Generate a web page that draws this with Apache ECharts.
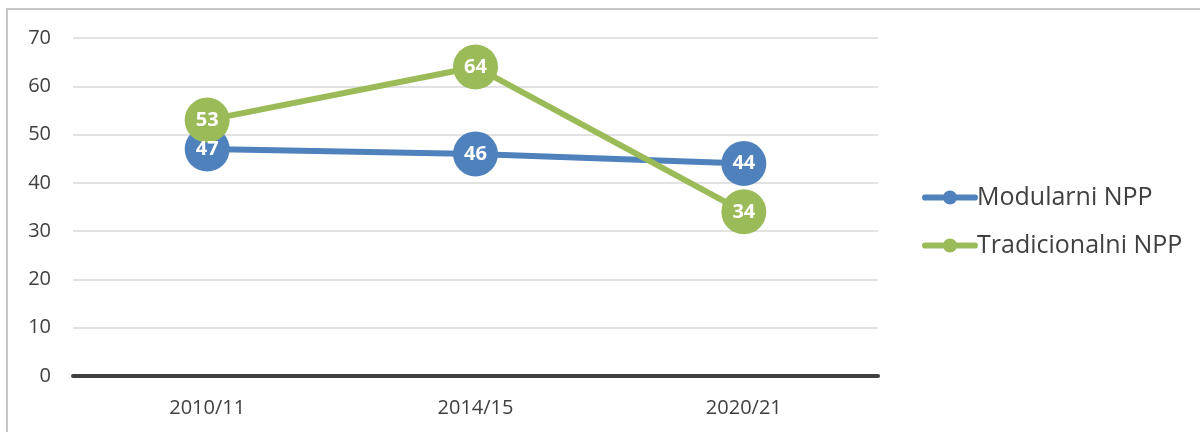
<!DOCTYPE html>
<html>
<head>
<meta charset="utf-8">
<script src="https://cdn.jsdelivr.net/npm/echarts@6/dist/echarts.min.js"></script>
<style>
  html, body { margin: 0; padding: 0; background: #fff; }
  #chart { width: 1200px; height: 432px; }
</style>
</head>
<body>
<div id="chart"></div>
<script>
// podaci sa grafikona
var categories = ['2010/11', '2014/15', '2020/21'];
var modularni = [47, 46, 44];
var tradicionalni = [53, 64, 34];
var yTicks = [0, 10, 20, 30, 40, 50, 60, 70];

var myChart = echarts.init(document.getElementById('chart'));

var font = "'Open Sans', 'Noto Sans', sans-serif";

var mkSeries = function(name, data, color){
    return {
        name: name,
        type: 'line',
        data: data,
        symbol: 'circle',
        symbolSize: 45,
        lineStyle: { color: color, width: 6 },
        itemStyle: { color: color },
        label: {
            show: true,
            position: 'inside',
            color: '#fff',
            fontWeight: 'bold',
            fontSize: 20,
            fontFamily: font
        },
        z: 3
    };
};

var option = {
    backgroundColor: '#fff',
    animation: false,
    graphic: [
        {
            type: 'rect',
            shape: { x: 7, y: 9, width: 1200, height: 440 },
            style: { fill: 'none', stroke: '#c8c8c8', lineWidth: 2 },
            silent: true
        }
    ],
    grid: { left: 73, right: 322, top: 38, bottom: 56 },
    legend: {
        orient: 'vertical',
        left: 917,
        top: 180,
        itemWidth: 56,
        itemHeight: 16,
        itemGap: 23,
        icon: 'path://M0,4.5 L20,4.5 A3.5,3.5 0 0 1 20,11.5 L0,11.5 A3.5,3.5 0 0 1 0,4.5 Z M28,0 A8,8 0 1 1 28,16 A8,8 0 1 1 28,0 Z M36,4.5 L56,4.5 A3.5,3.5 0 0 1 56,11.5 L36,11.5 A3.5,3.5 0 0 1 36,4.5 Z',
        textStyle: { fontSize: 25, color: '#404040', fontFamily: font, padding: [0, 0, 0, -6] },
        data: ['Modularni NPP', 'Tradicionalni NPP']
    },
    xAxis: {
        type: 'category',
        data: categories,
        boundaryGap: true,
        axisLine: { lineStyle: { color: '#404040', width: 4 } },
        axisTick: { show: false },
        axisLabel: { fontSize: 20, color: '#404040', fontFamily: font, margin: 22 }
    },
    yAxis: {
        type: 'value',
        min: yTicks[0],
        max: yTicks[yTicks.length - 1],
        interval: 10,
        axisLine: { show: false },
        axisTick: { show: false },
        splitLine: { lineStyle: { color: '#d9d9d9', width: 1.5 } },
        axisLabel: { fontSize: 20, color: '#404040', fontFamily: font, margin: 22 }
    },
    series: [
        mkSeries('Modularni NPP', modularni, '#4f81bd'),
        mkSeries('Tradicionalni NPP', tradicionalni, '#9bbb59')
    ]
};

myChart.setOption(option);
</script>
</body>
</html>
